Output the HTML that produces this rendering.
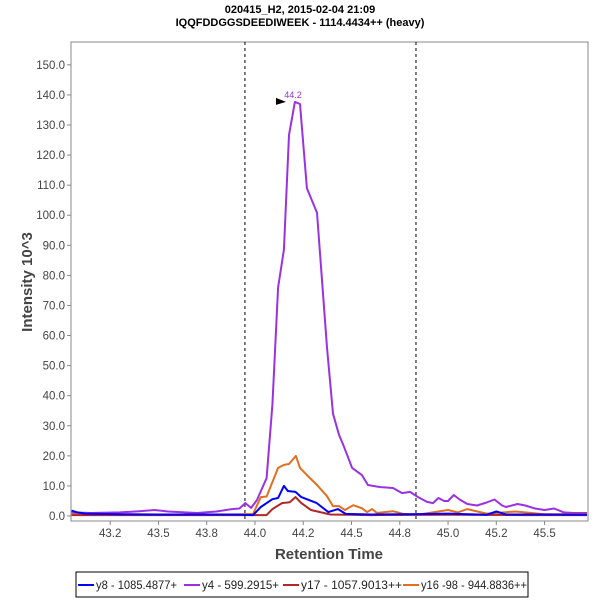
<!DOCTYPE html>
<html><head><meta charset="utf-8"><style>
body{margin:0;background:#fff;font-family:"Liberation Sans",sans-serif;}
svg text{font-family:"Liberation Sans",sans-serif;}
</style></head><body>
<svg id="chart" width="600" height="600" xmlns="http://www.w3.org/2000/svg">
<text x="300" y="13" font-size="11" font-weight="bold" text-anchor="middle" fill="#000">020415_H2, 2015-02-04 21:09</text>
<text x="300" y="26" font-size="11" font-weight="bold" text-anchor="middle" fill="#000">IQQFDDGGSDEEDIWEEK - 1114.4434++ (heavy)</text>
<g id="plot"></g>
<text x="329" y="559" font-size="15" font-weight="bold" text-anchor="middle" fill="#444">Retention Time</text>
<text transform="translate(32,282) rotate(-90)" font-size="15" font-weight="bold" text-anchor="middle" fill="#444">Intensity 10^3</text>
<g>
<rect x="76" y="572" width="452" height="25" fill="#fff" stroke="#000" stroke-width="1"/>
<g id="legend-items"></g>
</g>
</svg>
<script>
const xTicks=[43.25,43.5,43.75,44.0,44.25,44.5,44.75,45.0,45.25,45.5];
const xTickLabels=["43.2","43.5","43.8","44.0","44.2","44.5","44.8","45.0","45.2","45.5"];
const yTicks=[0,10,20,30,40,50,60,70,80,90,100,110,120,130,140,150];
const seriesNames=["y8 - 1085.4877+","y4 - 599.2915+","y17 - 1057.9013++","y16 -98 - 944.8836++"];
const seriesColors=["#0000ff","#9a32e2","#b02828","#e07020"];
const y8T=[43.05,43.08,43.12,43.3,43.5,43.7,43.9,43.99,44.03,44.09,44.12,44.15,44.17,44.21,44.24,44.32,44.38,44.43,44.47,44.6,44.8,45.0,45.2,45.25,45.3,45.5,45.72];
const y8V=[1.8,1.2,0.8,0.6,0.5,0.5,0.5,0.3,3,5.6,6,10,8.3,8,6.3,4.3,1.3,2.3,0.7,0.5,0.6,0.8,0.4,1.5,0.5,0.5,0.4];
const y4T=[43.05,43.15,43.3,43.4,43.48,43.55,43.7,43.8,43.88,43.92,43.95,43.98,44.01,44.06,44.09,44.12,44.15,44.176,44.207,44.233,44.269,44.321,44.373,44.404,44.435,44.461,44.503,44.554,44.585,44.648,44.715,44.762,44.803,44.845,44.891,44.922,44.95,44.98,45.0,45.03,45.06,45.1,45.15,45.2,45.24,45.28,45.3,45.36,45.4,45.45,45.5,45.55,45.6,45.65,45.72];
const y4V=[1.2,1,1.2,1.6,2,1.5,1,1.5,2.3,2.5,4.3,2.7,5.3,12.6,37,76,88.5,126.7,137.7,137,109,100.8,56,34,27,23,16,13.6,10.3,9.6,9.3,7.6,8,6.3,4.7,4.3,6,5,5,7,5.5,4,3.5,4.5,5.5,3.5,3,4,3.5,2.5,2,2.5,1.2,1,1];
const y17T=[43.05,43.4,43.8,44.0,44.06,44.09,44.14,44.18,44.21,44.24,44.29,44.39,44.6,45.0,45.4,45.72];
const y17V=[0.3,0.3,0.3,0.3,0.3,2.3,4.3,4.6,6.3,4.3,2,0.5,0.3,0.4,0.3,0.3];
const y16T=[43.05,43.5,43.9,43.99,44.03,44.06,44.12,44.15,44.176,44.212,44.233,44.269,44.321,44.373,44.404,44.435,44.466,44.508,44.554,44.58,44.606,44.632,44.715,44.767,44.85,44.95,45.0,45.05,45.1,45.2,45.35,45.5,45.72];
const y16V=[0.5,0.5,0.5,0.7,6.3,6.5,16,17,17.3,20,16,13.6,10.3,6.6,3.3,3.3,2,3.6,2.6,1.3,2.3,1,1.6,0.7,0.5,1.5,2,1.2,2.3,0.8,1.5,0.6,0.6];
const seriesT=[y8T,y4T,y17T,y16T];
const seriesV=[y8V,y4V,y17V,y16V];
const boundaries=[43.948,44.834];
const peakT=44.176, peakV=137.7, peakLabel="44.2";

const NS="http://www.w3.org/2000/svg";
const L=71,R=588,T=42,B=521;
const xMin=43.047,xMax=45.725,yMin=-1.66,yMax=157.6;
const xs=t=>L+(t-xMin)/(xMax-xMin)*(R-L);
const ys=v=>B-(v-yMin)/(yMax-yMin)*(B-T);
const plot=document.getElementById('plot');
function mk(tag,attrs,parent){const e=document.createElementNS(NS,tag);for(const k in attrs)e.setAttribute(k,attrs[k]);(parent||plot).appendChild(e);return e;}

const frame=mk('rect',{x:L,y:T,width:R-L,height:B-T,fill:'#fff',stroke:'#888','stroke-width':1});



yTicks.forEach(v=>{
  const y=ys(v);
  const tk=mk('line',{x1:L-4,x2:L,y1:y,y2:y,stroke:'#888'});
  
  
  const tx=mk('text',{x:L-6,y:y+4,'font-size':11.5,'text-anchor':'end',fill:'#444'});
  tx.textContent=v.toFixed(1);
  
  
});
xTicks.forEach((t,i)=>{
  const x=xs(t);
  const tk=mk('line',{x1:x,x2:x,y1:B,y2:B+4,stroke:'#888'});
  
  
  const tx=mk('text',{x:x,y:B+16,'font-size':11.5,'text-anchor':'middle',fill:'#444'});
  tx.textContent=xTickLabels[i];
  
  
});
boundaries.forEach(t=>{
  const ln=mk('line',{x1:xs(t),x2:xs(t),y1:T,y2:B,stroke:'#000','stroke-dasharray':'3,3','stroke-width':1});
  
  
});
[1,3,2,0].forEach(i=>{
  const d=seriesT[i].map((t,j)=>(j?'L':'M')+xs(t).toFixed(1)+','+ys(seriesV[i][j]).toFixed(1)).join(' ');
  const p=mk('path',{d:d,fill:'none',stroke:seriesColors[i],'stroke-width':2,'stroke-linejoin':'round'});
  
  
});
const px=xs(peakT),py=ys(peakV);
const ar=mk('polygon',{points:`${px-13},${py-4} ${px-3},${py} ${px-13},${py+3}`,fill:'#000'});


const pl=mk('text',{x:px+4,y:py-4,'font-size':9,'text-anchor':'middle',fill:'#9a32e2'});
pl.textContent=peakLabel;



const lg=document.getElementById('legend-items');
const lx=[78,184,283,403];
const lw=[81,77,101,106];
seriesNames.forEach((n,i)=>{
  const ln=mk('line',{x1:lx[i],x2:lx[i]+16,y1:585,y2:585,stroke:seriesColors[i],'stroke-width':2},lg);
  
  
  const tx=mk('text',{x:lx[i]+18,y:589,'font-size':11.5,fill:'#222',textLength:lw[i],lengthAdjust:'spacingAndGlyphs'},lg);
  tx.textContent=n;
  
  
});
</script>
</body></html>
